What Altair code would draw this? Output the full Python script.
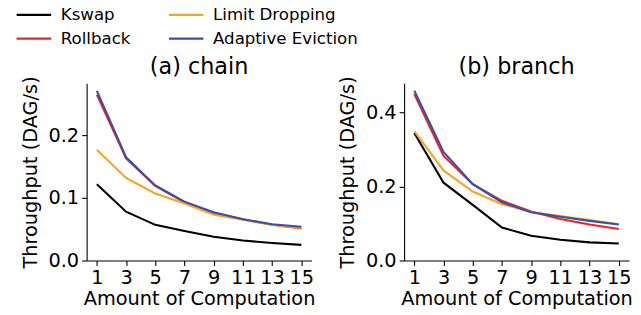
import altair as alt
import pandas as pd

x_vals = [1, 3, 5, 7, 9, 11, 13, 15]
series = ["Kswap", "Rollback", "Limit Dropping", "Adaptive Eviction"]
colors = ["#000000", "#ee2222", "#f5a623", "#3a50a8"]

chain = {
    "Kswap": [0.122, 0.078, 0.057, 0.047, 0.038, 0.032, 0.028, 0.025],
    "Rollback": [0.265, 0.163, 0.119, 0.093, 0.076, 0.066, 0.057, 0.051],
    "Limit Dropping": [0.177, 0.132, 0.107, 0.091, 0.073, 0.065, 0.057, 0.052],
    "Adaptive Eviction": [0.271, 0.165, 0.120, 0.094, 0.077, 0.066, 0.058, 0.054],
}
branch = {
    "Kswap": [0.344, 0.210, 0.150, 0.089, 0.067, 0.056, 0.049, 0.046],
    "Rollback": [0.449, 0.282, 0.206, 0.161, 0.132, 0.112, 0.097, 0.085],
    "Limit Dropping": [0.349, 0.243, 0.186, 0.152, 0.131, 0.120, 0.109, 0.098],
    "Adaptive Eviction": [0.458, 0.293, 0.206, 0.157, 0.130, 0.118, 0.107, 0.097],
}

def make_df(d):
    rows = []
    for s in series:
        for i, (xv, yv) in enumerate(zip(x_vals, d[s])):
            rows.append({"x": xv, "y": yv, "series": s, "ord": i})
    return pd.DataFrame(rows)

FONT = "DejaVu Sans"

def panel(d, title, ymax, yticks):
    color = alt.Color(
        "series:N",
        scale=alt.Scale(domain=series, range=colors),
        legend=alt.Legend(
            title=None, orient="none", legendX=-63, legendY=-79,
            columns=2, symbolType="M-2,0H2", symbolSize=300,
            symbolStrokeWidth=2.2, labelFontSize=16.7, labelFont=FONT,
            labelColor="black", labelOffset=17, columnPadding=34,
            rowPadding=5, labelLimit=300,
        ),
    )
    return alt.Chart(make_df(d)).mark_line(strokeWidth=2.1).encode(
        x=alt.X("x:Q", scale=alt.Scale(domain=[0.3, 15.7], nice=False, zero=False),
                axis=alt.Axis(values=x_vals, title="Amount of Computation", grid=False)),
        y=alt.Y("y:Q", scale=alt.Scale(domain=[0, ymax], nice=False),
                axis=alt.Axis(values=yticks, format=".1f", title="Throughput (DAG/s)", grid=False)),
        color=color,
        detail="series:N",
        order="ord:Q",
    ).properties(
        width=226, height=178,
        title=alt.TitleParams(title, fontSize=22.4, font=FONT, fontWeight="normal",
                              color="black", offset=-3),
    )

left = panel(chain, "(a) chain", 0.283, [0.0, 0.1, 0.2])
right = panel(branch, "(b) branch", 0.478, [0.0, 0.2, 0.4])

chart = alt.hconcat(left, right, spacing=22).configure_view(stroke=None).configure_axis(
    labelFont=FONT, titleFont=FONT, labelFontSize=19.4, titleFontSize=19.4,
    titleFontWeight="normal", labelColor="black", titleColor="black",
    domainColor="black", domainWidth=1.1, tickColor="black", tickWidth=1.1,
    tickSize=5, labelPadding=3,
).configure_axisY(titlePadding=8).configure_axisX(titlePadding=3).properties(
    padding={"left": 12, "top": -4, "right": 0, "bottom": 0}
)

chart.save("out.html", embed_options={"renderer": "svg", "actions": False})
